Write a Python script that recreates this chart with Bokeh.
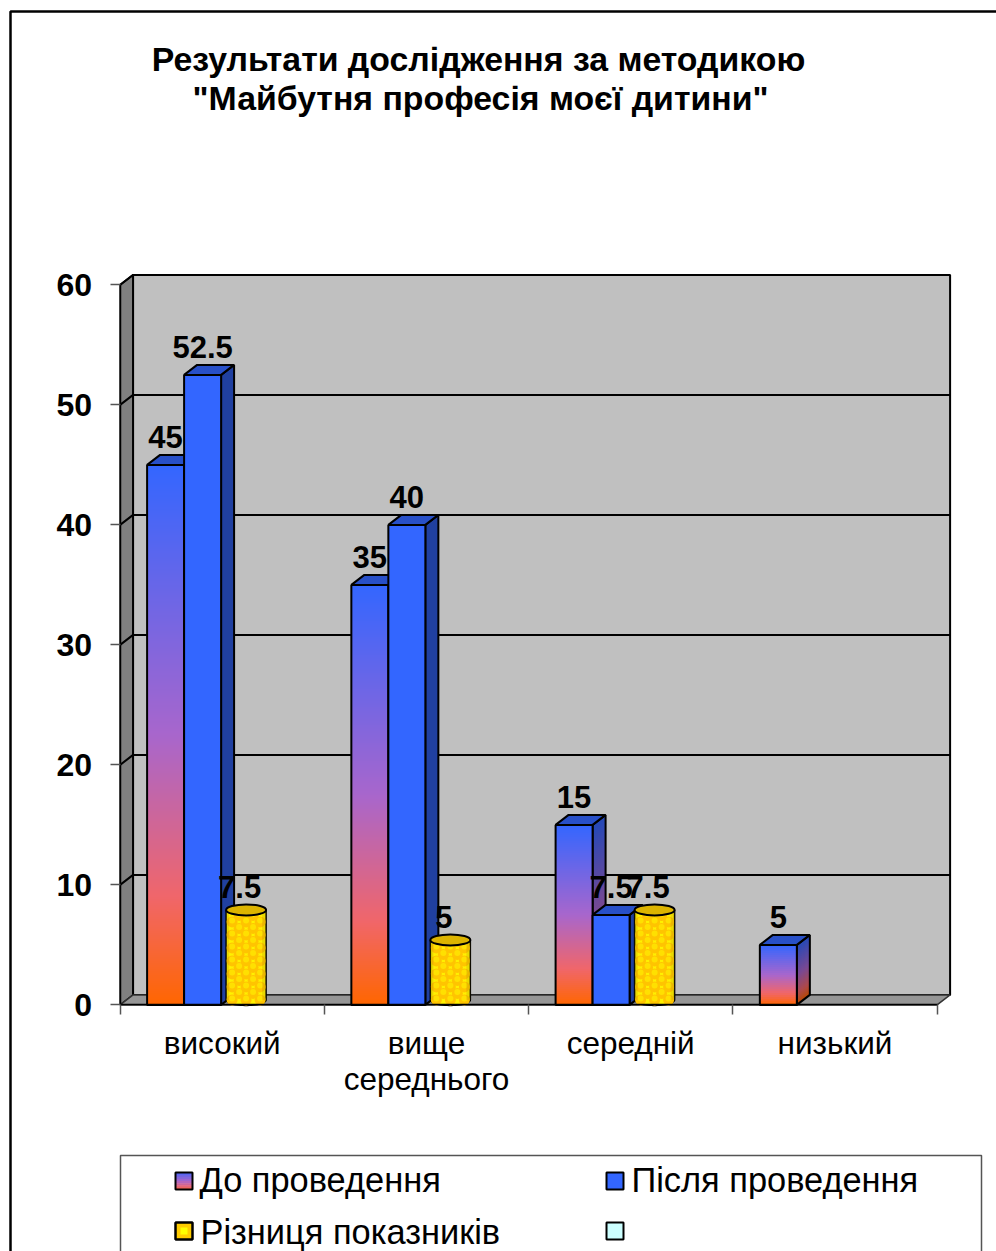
from bokeh.plotting import figure
from bokeh.models import Range1d, LinearAxis, FixedTicker
from bokeh.core.properties import value
from bokeh.embed import file_html
from bokeh.resources import INLINE
import numpy as np

TITLE_1 = "Результати дослідження за методикою"
TITLE_2 = "\"Майбутня професія моєї дитини\""
categories = ["високий", "вище\nсереднього", "середній", "низький"]
series_names = ["До проведення", "Після проведення", "Різниця показників", ""]
before = [45, 35, 15, 5]
after = [52.5, 40, 7.5, 0]
difference = [7.5, 5, 7.5, 0]
y_ticks = [0, 10, 20, 30, 40, 50, 60]

FONT = "Liberation Sans"
W, H = 996, 1251
L, B = 119.6, 1004.4      # page position of the axes' origin
CAT_PX = 204.25
UNIT_PX = 12.0
DX = 13 / CAT_PX
DY = 10 / UNIT_PX
BAR_W = 37 / CAT_PX
BAR_GAP0 = 27 / CAT_PX


def PX(px):
    return (px - L) / CAT_PX


def PY(py):
    return (B - py) / UNIT_PX


p = figure(width=W, height=H, output_backend="svg", toolbar_location=None,
           x_range=Range1d(PX(0), PX(W)), y_range=Range1d(PY(H), PY(0)),
           x_axis_type=None, y_axis_type=None,
           min_border_left=0, min_border_right=0, min_border_top=0, min_border_bottom=0)
p.outline_line_color = None
p.grid.visible = False


def hexc(c):
    return "#%02x%02x%02x" % tuple(int(round(max(0, min(255, v)))) for v in c)


STOPS_T = [0.0, 0.5, 0.8, 1.0]
STOPS_R = [0x33, 0xA8, 0xF0, 0xFF]
STOPS_G = [0x66, 0x66, 0x66, 0x66]
STOPS_B = [0xFF, 0xCC, 0x6A, 0x00]


def grad(t):          # t = 0 at the top of a bar, 1 at its foot
    return (np.interp(t, STOPS_T, STOPS_R), np.interp(t, STOPS_T, STOPS_G), np.interp(t, STOPS_T, STOPS_B))


n = len(categories)
# walls
p.patch([0, DX, DX, 0], [0, DY, 60 + DY, 60], fill_color="#808080", line_color="black", line_width=1.5)
p.patch([DX, n + DX, n + DX, DX], [DY, DY, 60 + DY, 60 + DY], fill_color="#C0C0C0", line_color="black", line_width=2)
p.patch([0, DX, n + DX, n], [0, DY, DY, 0], fill_color="#969696", line_color="#333333", line_width=1.5)
grid_vals = y_ticks[1:-1]
p.multi_line([[0, DX, n + DX] for _ in grid_vals], [[v, v + DY, v + DY] for v in grid_vals],
             line_color="black", line_width=2)
p.line([0, DX, n + DX], [60, 60 + DY, 60 + DY], line_color="black", line_width=2)

# axes, drawn at the data origin
yax = LinearAxis(ticker=FixedTicker(ticks=y_ticks), bounds=(0, 60), fixed_location=0)
yax.axis_line_color = "black"
yax.axis_line_width = 1.5
yax.major_tick_line_color = "#555555"
yax.major_tick_line_width = 1.5
yax.major_tick_in = 0
yax.major_tick_out = 10
yax.minor_tick_line_color = None
yax.major_label_standoff = 18
yax.major_label_text_font = FONT
yax.major_label_text_font_size = "32px"
yax.major_label_text_font_style = "bold"
yax.major_label_text_color = "black"
p.add_layout(yax, "left")

centers = [i + 0.5 for i in range(n)]
xax = LinearAxis(ticker=FixedTicker(ticks=centers, minor_ticks=list(range(n + 1))),
                 bounds=(0, n), fixed_location=0)
xax.major_label_overrides = {c: t for c, t in zip(centers, categories)}
xax.axis_line_color = "black"
xax.axis_line_width = 1.5
xax.major_tick_line_color = None
xax.minor_tick_line_color = "#555555"
xax.minor_tick_line_width = 1.5
xax.minor_tick_in = 0
xax.minor_tick_out = 10
xax.major_tick_in = 0
xax.major_tick_out = 0
xax.major_label_standoff = 10
xax.major_label_text_font = FONT
xax.major_label_text_font_size = "31.5px"
xax.major_label_text_line_height = 1.0
xax.major_label_text_color = "black"
p.add_layout(xax, "below")


def solid_bar(x0, v, front, top, side):
    x1 = x0 + BAR_W
    p.patch([x1, x1 + DX, x1 + DX, x1], [0, DY, v + DY, v], fill_color=side, line_color="black", line_width=2)
    p.patch([x0, x0 + DX, x1 + DX, x1], [v, v + DY, v + DY, v], fill_color=top, line_color="black", line_width=2)
    p.quad(left=x0, right=x1, bottom=0, top=v, fill_color=front, line_color="black", line_width=2)


def gradient_bar(x0, v):
    x1 = x0 + BAR_W
    N = max(12, int(v * 6))
    ed = np.linspace(0, v, N + 1)
    ts = [1 - (k + 0.5) / N for k in range(N)]
    cols = [hexc(grad(t)) for t in ts]
    sides = [hexc(tuple(c * 0.72 for c in grad(t))) for t in ts]
    ov = 0.12
    tops = np.minimum(ed[1:] + ov, v)
    xs = [[x1, x1 + DX, x1 + DX, x1] for _ in range(N)]
    ys = [[ed[k], ed[k] + DY, tops[k] + DY, tops[k]] for k in range(N)]
    p.patches(xs, ys, fill_color=sides, line_color=None)
    p.patch([x1, x1 + DX, x1 + DX, x1], [0, DY, v + DY, v], fill_color=None, line_color="black", line_width=2)
    p.patch([x0, x0 + DX, x1 + DX, x1], [v, v + DY, v + DY, v], fill_color="#2850C8", line_color="black", line_width=2)
    p.quad(left=x0, right=x1, bottom=ed[:-1], top=tops, fill_color=cols, line_color=None)
    p.quad(left=x0, right=x1, bottom=0, top=v, fill_color=None, line_color="black", line_width=2)


def cylinder(xc, v):
    rx = 20 / CAT_PX
    ry = 5.5 / UNIT_PX
    yb, yt = DY / 2, v + DY / 2
    th = np.linspace(np.pi, 2 * np.pi, 30)
    bx = xc + rx * np.cos(th)
    by = yb + ry * np.sin(th)
    xs = np.concatenate([bx, [xc + rx, xc - rx]])
    ys = np.concatenate([by, [yt, yt]])
    p.patch(xs, ys, fill_color="#FFF000", line_color="black", line_width=1.5)
    pts_x, pts_y, hx, hy = [], [], [], []
    row = 0
    yy = yb
    while yy < yt:
        off = 0 if row % 2 == 0 else 7 / CAT_PX
        xx = xc - rx + 6 / CAT_PX + off
        while xx < xc + rx - 4.5 / CAT_PX:
            pts_x.append(xx); pts_y.append(yy)
            hx.append(xx); hy.append(yy + 1.5 / UNIT_PX)
            xx += 14 / CAT_PX
        yy += 6.5 / UNIT_PX
        row += 1
    p.scatter(pts_x, pts_y, size=11, marker="circle", fill_color="#FFC400", line_color=None)
    p.scatter(hx, hy, size=6, marker="circle", fill_color="#FFE000", line_color=None)
    p.quad(left=[xc - rx, xc + rx - 4 / CAT_PX], right=[xc - rx + 3 / CAT_PX, xc + rx],
           bottom=yb, top=yt, fill_color="#B09000", fill_alpha=0.25, line_color=None)
    p.ellipse([xc], [yt], width=2 * rx, height=2 * ry, fill_color="#DDB400", line_color="black", line_width=2)


lab_x, lab_y, lab_t = [], [], []
for i in range(n):
    x0 = i + BAR_GAP0
    if before[i] > 0:
        gradient_bar(x0, before[i])
        lab_x.append(x0 + BAR_W / 2); lab_y.append(before[i]); lab_t.append(f"{before[i]:g}")
    if after[i] > 0:
        solid_bar(x0 + BAR_W, after[i], "#3366FF", "#2850C8", "#2040A0")
        lab_x.append(x0 + 1.5 * BAR_W); lab_y.append(after[i]); lab_t.append(f"{after[i]:g}")
    if difference[i] > 0:
        cylinder(x0 + 2.5 * BAR_W + DX / 2, difference[i])
        lab_x.append(x0 + 2.5 * BAR_W); lab_y.append(difference[i]); lab_t.append(f"{difference[i]:g}")

p.text(lab_x, lab_y, text=lab_t, text_align="center", text_baseline="alphabetic", y_offset=-28,
       text_font=value(FONT), text_font_size="31px", text_font_style="bold", text_color="black")


def label(px, py, text, size, style="normal", align="left"):
    p.text([PX(px)], [PY(py)], text=[text], text_font=value(FONT), text_font_size=size,
           text_font_style=style, text_align=align, text_baseline="alphabetic", text_color="black")


def box(x0, x1, y0, y1, fill=None, line="black", lw=2):
    p.quad(left=PX(x0), right=PX(x1), top=PY(y0), bottom=PY(y1), fill_color=fill, line_color=line, line_width=lw)


label(478, 58, TITLE_1, "33.8px", "bold", "center")
label(480, 97, TITLE_2, "33.8px", "bold", "center")

# outer chart border and legend frame, both running on past the page edge
p.line([PX(10), PX(10), PX(1100)], [PY(1400), PY(11), PY(11)], line_color="black", line_width=2.5)
p.line([PX(120), PX(120), PX(981), PX(981)], [PY(1400), PY(1155), PY(1155), PY(1400)],
       line_color="#555555", line_width=1.5)

# legend
SW = 17
for k in range(8):
    box(175, 175 + SW, 1172 + k * SW / 8, 1172 + (k + 1) * SW / 8 + 0.5, hexc(grad(0.1 + 0.8 * (k + 0.5) / 8)), None, 0)
box(175, 175 + SW, 1172, 1172 + SW)
box(606, 606 + SW, 1172, 1172 + SW, "#3366FF")
box(175, 175 + SW, 1222, 1222 + SW, "#FFCC00")
box(180, 187, 1227, 1234, "#FFFF00", None, 0)
box(175, 175 + SW, 1222, 1222 + SW)
box(606, 606 + SW, 1222, 1222 + SW, "#CCFFFF")
label(199, 1179, series_names[0], "34.4px")
label(631, 1179, series_names[1], "34.4px")
label(200, 1231, series_names[2], "34.4px")

open("out.html", "w").write(file_html(p, INLINE))
